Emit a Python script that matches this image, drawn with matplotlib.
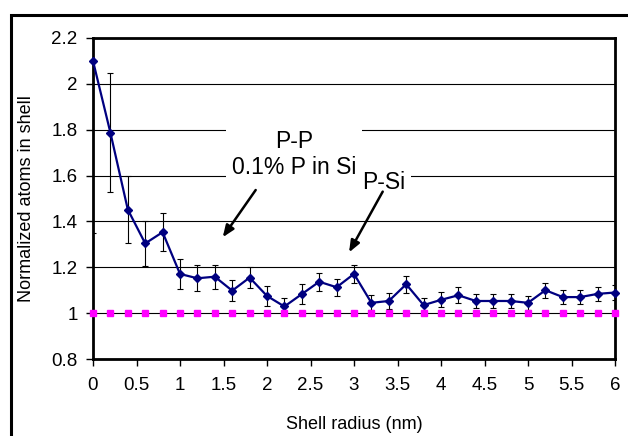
import matplotlib
matplotlib.use("Agg")
import matplotlib.pyplot as plt
from matplotlib.patches import Rectangle

plt.rcParams['font.family'] = ['Liberation Sans', 'DejaVu Sans']

# ---- data ----
shell_radius = [0.0, 0.2, 0.4, 0.6, 0.8, 1.0, 1.2, 1.4, 1.6, 1.8, 2.0,
                2.2, 2.4, 2.6, 2.8, 3.0, 3.2, 3.4, 3.6, 3.8, 4.0,
                4.2, 4.4, 4.6, 4.8, 5.0, 5.2, 5.4, 5.6, 5.8, 6.0]
pp_values = [2.10, 1.787, 1.452, 1.304, 1.353, 1.171, 1.152, 1.159, 1.098, 1.155, 1.075,
             1.029, 1.083, 1.137, 1.113, 1.171, 1.045, 1.053, 1.126, 1.035, 1.058,
             1.078, 1.053, 1.053, 1.053, 1.045, 1.100, 1.070, 1.070, 1.084, 1.090]
pp_errors = [0.75, 0.26, 0.147, 0.100, 0.083, 0.066, 0.056, 0.053, 0.046, 0.047, 0.042,
             0.039, 0.043, 0.040, 0.037, 0.038, 0.032, 0.033, 0.037, 0.032, 0.033,
             0.034, 0.032, 0.032, 0.032, 0.031, 0.033, 0.032, 0.032, 0.032, 0.032]
psi_values = [1.0] * 31

x_ticks = [0, 0.5, 1, 1.5, 2, 2.5, 3, 3.5, 4, 4.5, 5, 5.5, 6]
x_tick_labels = ['0', '0.5', '1', '1.5', '2', '2.5', '3', '3.5', '4', '4.5', '5', '5.5', '6']
y_ticks = [0.8, 1.0, 1.2, 1.4, 1.6, 1.8, 2.0, 2.2]
y_tick_labels = ['0.8', '1', '1.2', '1.4', '1.6', '1.8', '2', '2.2']

# ---- figure ----
W, H = 628, 436
fig = plt.figure(figsize=(W / 100, H / 100), dpi=100)
L, R, T, B = 93, 615, 38, 359
ax = fig.add_axes([L / W, 1 - B / H, (R - L) / W, (B - T) / H])

# outer frame
fig.patches.append(Rectangle((10.5 / W, -0.1), 1.2, 1 - 15 / H + 0.1,
                             transform=fig.transFigure, fill=False,
                             edgecolor='black', lw=2.2, clip_on=False))

ax.errorbar(shell_radius, pp_values, yerr=pp_errors, fmt='none',
            ecolor='black', elinewidth=0.8, capsize=2.5, capthick=0.8, zorder=2)
ax.plot(shell_radius, pp_values, color='#000080', lw=1.6, marker='D',
        markersize=4, markerfacecolor='#000080', markeredgecolor='#000080',
        zorder=4, clip_on=False)
ax.plot(shell_radius, psi_values, linestyle='none', marker='s', markersize=4.3,
        markerfacecolor='#FF00FF', markeredgecolor='#FF00FF', zorder=4, clip_on=False)

ax.set_xlim(0, 6)
ax.set_ylim(0.8, 2.2)
ax.set_xticks(x_ticks)
ax.set_xticklabels(x_tick_labels)
ax.set_yticks(y_ticks)
ax.set_yticklabels(y_tick_labels)
ax.tick_params(axis='both', direction='out', length=5, width=1, labelsize=13.5,
               colors='black')
ax.tick_params(axis='x', pad=8)
ax.tick_params(axis='y', pad=6)
ax.yaxis.grid(True, color='black', lw=0.8)
for s in ax.spines.values():
    s.set_linewidth(2.0)
    s.set_color('black')

ax.set_xlabel('Shell radius (nm)', fontsize=13, va='center')
ax.xaxis.set_label_coords(0.5, (B - 424.5) / (B - T))
ax.set_ylabel('Normalized atoms in shell', fontsize=13, va='center')
ax.yaxis.set_label_coords((27 - L) / (R - L), 0.5)

box = dict(facecolor='white', edgecolor='none', pad=4)
ax.text(2.31, 1.692, 'P-P\n0.1% P in Si', fontsize=16.5, ha='center', va='center',
        linespacing=1.15, bbox=box, zorder=3)
ax.text(3.345, 1.568, 'P-Si', fontsize=16.5, ha='center', va='center',
        bbox=box, zorder=3)

arrow = dict(arrowstyle='-|>,head_length=0.7,head_width=0.28', color='black',
             lw=1.8, shrinkA=0, shrinkB=0)
ax.annotate('', xy=(1.491, 1.331), xytext=(1.870, 1.537), arrowprops=arrow, zorder=5)
ax.annotate('', xy=(2.943, 1.265), xytext=(3.330, 1.530), arrowprops=arrow, zorder=5)

fig.savefig('out.png', dpi=100)
